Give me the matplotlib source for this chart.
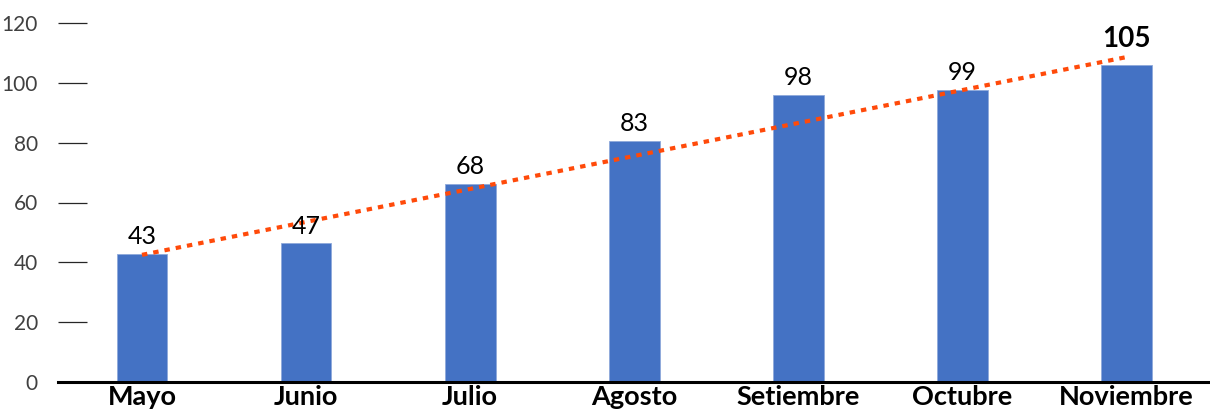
import matplotlib
matplotlib.use("Agg")
import matplotlib.pyplot as plt

months = ["Mayo", "Junio", "Julio", "Agosto", "Setiembre", "Octubre", "Noviembre"]
bar_values = [42.8, 46.3, 66.3, 80.7, 96.0, 97.6, 105.8]
value_labels = ["43", "47", "68", "83", "98", "99", "105"]
trend_months = ["Mayo", "Noviembre"]
trend_values = [42.5, 108.6]
y_ticks = [0, 20, 40, 60, 80, 100, 120]

plt.rcParams['font.family'] = ['Lato', 'DejaVu Sans']

W, H = 1210, 417
fig = plt.figure(figsize=(W / 100, H / 100), dpi=100)
ax = fig.add_axes([58 / W, 1 - 382 / H, 1 - 58 / W, (382 - 23) / H])

x = list(range(len(months)))
ax.bar(x, bar_values, width=0.31, color="#4472C4", edgecolor="#8EA9DB",
       linewidth=0.6, zorder=2)

tx = [months.index(m) for m in trend_months]
ax.plot(tx, trend_values, color="#FF4A0A", linewidth=3.0,
        dashes=(1.3, 1.45), dash_capstyle="butt", zorder=3)

for i, (v, lab) in enumerate(zip(bar_values, value_labels)):
    last = i == len(months) - 1
    ax.annotate(lab, (i, v), xytext=(0, 10 if last else 4),
                textcoords="offset points", ha="center", va="bottom",
                fontsize=20 if last else 18,
                fontweight="bold" if last else "normal",
                color="black", zorder=4, annotation_clip=False)

ax.set_xlim(-0.512, 6.51)
ax.set_ylim(0, 120)
ax.set_xticks(x)
ax.set_xticklabels(months, fontsize=19.5, fontweight="bold", color="black")
ax.set_yticks(y_ticks)
ax.set_yticklabels([str(t) for t in y_ticks], fontsize=15, fontweight="normal",
                   color="#404040")

for s in ["left", "top", "right"]:
    ax.spines[s].set_visible(False)
ax.spines["bottom"].set_linewidth(2.2)
ax.spines["bottom"].set_color("black")
ax.spines["bottom"].set_zorder(5)

ax.tick_params(axis="y", direction="in", length=21, width=0.9,
               color="#262626", pad=14.4)
ax.tick_params(axis="x", length=0, pad=2.5)

fig.savefig("out.png", dpi=100)
